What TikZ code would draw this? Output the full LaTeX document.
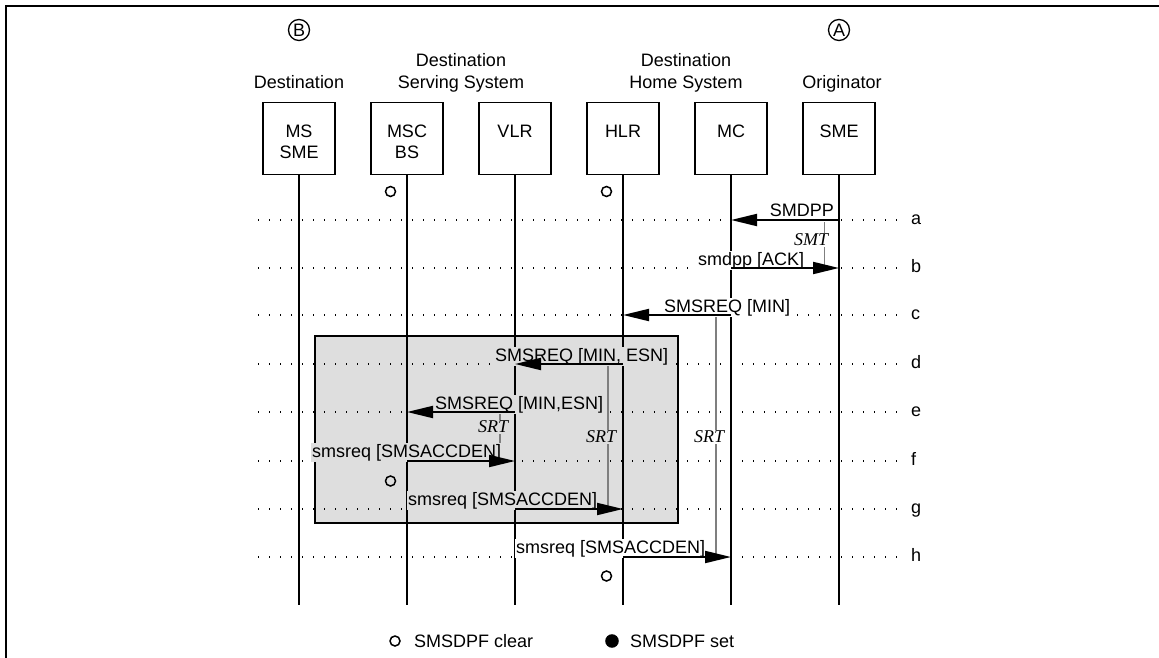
\documentclass[tikz,border=0pt]{standalone}
\usepackage{fontspec}
\setmainfont{Liberation Sans}
\newfontfamily\timerfont{Liberation Serif}
\usetikzlibrary{arrows.meta,positioning}
\definecolor{boxgray}{HTML}{DEDEDE}
\definecolor{timergray}{HTML}{7F7F7F}

\begin{document}
\begin{tikzpicture}[
  x=1pt, y=-1pt,
  font=\fontsize{18}{21}\selectfont,
  entity/.style={rectangle, draw, line width=1.6pt, minimum width=72pt, minimum height=72pt, anchor=north, inner sep=0pt},
  entitytext/.style={anchor=north, align=center, inner sep=0pt},
  header/.style={anchor=north, align=center, inner sep=0pt, font=\fontsize{18}{22.4}\selectfont},
  lifeline/.style={line width=1.6pt},
  rowline/.style={line width=1.2pt, dash pattern=on 1.2pt off 9.8pt},
  msglabel/.style={fill=white, inner sep=1pt, anchor=base west},
  msg/.style={-{Triangle[length=26pt,width=12pt]}, line width=2pt},
  timer/.style={timergray, line width=1.4pt},
  timerlabel/.style={fill=white, inner sep=1pt, font=\timerfont\itshape\fontsize{18}{20}\selectfont},
  flag/.style={circle, draw, line width=1.5pt, minimum size=10pt, inner sep=0pt},
  endpoint/.style={circle, draw, line width=1.3pt, minimum size=21pt, inner sep=0pt}
]
\useasboundingbox (0,0) rectangle (1159,658);
\draw[line width=2pt] (6,664) -- (6,6) -- (1165,6);

% endpoints and system names
\node[endpoint] (dest) at (299,30) {B};
\node[endpoint] (orig) at (839,30) {A};
\node[header] (hdest) at (299,75.3) {Destination};
\node[header] (hserv) at (461,52.9) {Destination\\Serving System};
\node[header] (hhome) at (686,52.9) {Destination\\Home System};
\node[header] (horig) at (842,75.3) {Originator};

% invoke box
\draw[fill=boxgray, line width=1.6pt] (315,336) rectangle (678,523);

% rows a..h
\foreach \r/\y in {a/220, b/268, c/315, d/364, e/412, f/461, g/509, h/557} {
  \coordinate (y\r) at (0,\y);
  \node[anchor=base west, inner sep=0pt] (row\r) at (911,\y+4.5) {\r};
  \draw[rowline] (258,\y) -- ([xshift=-10pt]row\r.west |- y\r);
}

% network entities
\foreach \n/\x/\t in {ms/299/{MS\\SME}, msc/407/{MSC\\BS}, vlr/515/VLR, hlr/623/HLR, mc/731/MC, sme/839/SME} {
  \node[entity] (\n) at (\x,101.7) {};
  \node[entitytext] (\n-t) at (\x,124.6) {\t};
  \coordinate (\n-end) at (\x,605);
  \draw[lifeline] (\n.south) -- (\n-end);
}

% timers
\draw[timer] (824.7,222) -- (824.7,267);
\draw[timer] (716,315) -- (716,557);
\draw[timer] (608,364) -- (608,509);
\draw[timer] (500,412) -- (500,461);

% message labels
\node[msglabel, anchor=base east] (la) at (835,216.5) {SMDPP};
\node[msglabel] (lb) at (697,265.5) {smdpp [ACK]};
\node[msglabel] (lc) at (663,312) {SMSREQ [MIN]};
\node[msglabel, fill=boxgray] (ld) at (494,361) {SMSREQ [MIN, ESN]};
\node[msglabel, fill=boxgray] (le) at (434,409) {SMSREQ [MIN,ESN]};
\node[msglabel, fill=boxgray] (lf) at (311,457) {smsreq [SMSACCDEN]};
\node[msglabel, fill=boxgray] (lg) at (407,505) {smsreq [SMSACCDEN]};
\node[msglabel] (lh) at (515,553) {smsreq [SMSACCDEN]};

\node[timerlabel] (smt) at (811,240) {SMT};
\node[timerlabel] (srtc) at (709,437) {SRT};
\node[timerlabel, fill=boxgray] (srtd) at (601,437) {SRT};
\node[timerlabel, fill=boxgray] (srte) at (493,427) {SRT};

% messages
\draw[msg] (sme |- ya) -- (mc |- ya);
\draw[msg] (mc |- yb) -- (sme |- yb);
\draw[msg] (mc |- yc) -- (hlr |- yc);
\draw[msg] (hlr |- yd) -- (vlr |- yd);
\draw[msg] (vlr |- ye) -- (msc |- ye);
\draw[msg] (msc |- yf) -- (vlr |- yf);
\draw[msg] (vlr |- yg) -- (hlr |- yg);
\draw[msg] (hlr |- yh) -- (mc |- yh);

% SMSDPF flags
\node[flag] (f1) at (390.5,191.5) {};
\node[flag] (f2) at (606.5,191.5) {};
\node[flag] (f3) at (390.5,481) {};
\node[flag] (f4) at (606.5,576) {};

% legend
\node[flag] (kclear) at (395,641) {};
\node[anchor=base west, inner sep=0pt] (tclear) at (414,647.5) {SMSDPF clear};
\node[flag, fill=black, minimum size=12pt] (kset) at (612,641) {};
\node[anchor=base west, inner sep=0pt] (tset) at (630,647.5) {SMSDPF set};
\end{tikzpicture}
\end{document}
